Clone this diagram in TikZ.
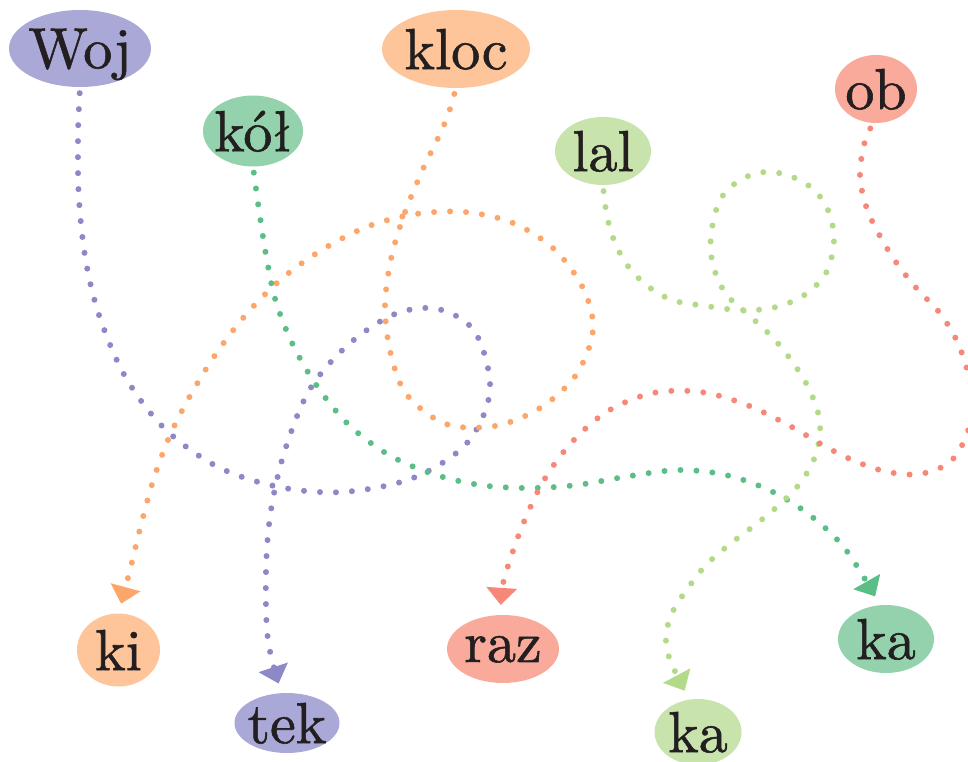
\documentclass[tikz,border=0pt]{standalone}
\usepackage{fontspec}
\usetikzlibrary{shapes.geometric,arrows.meta}

\newfontfamily\nodefont{lmroman10-regular.otf}[FakeBold=1]

\definecolor{purpleFill}{HTML}{A9A8D6}
\definecolor{purpleLine}{HTML}{8D89C6}
\definecolor{orangeFill}{HTML}{FDC599}
\definecolor{orangeLine}{HTML}{FCA66B}
\definecolor{greenFill}{HTML}{93D2AC}
\definecolor{greenLine}{HTML}{5CBE87}
\definecolor{limeFill}{HTML}{C9E3AD}
\definecolor{limeLine}{HTML}{B3DA89}
\definecolor{redFill}{HTML}{F9AA9B}
\definecolor{redLine}{HTML}{F6887A}
\definecolor{ink}{HTML}{231F20}

\tikzset{
  blob/.style={ellipse, inner xsep=-12pt, inner ysep=0pt, text=ink,
    font=\nodefont\fontsize{58}{60}\selectfont, text depth=0pt},
  link/.style={line width=6pt, line cap=round, dash pattern=on 0pt off 16pt,
    -{Triangle[width=31pt,length=17pt,line width=0pt]},
    shorten >=10pt, shorten <=6pt},
}

\begin{document}
\begin{tikzpicture}[x=1pt, y=-1pt]
\useasboundingbox (0,0) rectangle (968,762);

% nodes
\node[blob, fill=purpleFill, minimum width=142pt, minimum height=77pt] (woj) at (80,48.5) {Woj};
\node[blob, fill=orangeFill, minimum width=148pt, minimum height=78pt] (kloc) at (456,49) {kloc};
\node[blob, fill=greenFill, minimum width=100pt, minimum height=71pt] (kol) at (253,131) {kół};
\node[blob, fill=limeFill, minimum width=96pt, minimum height=68pt] (lal) at (603,151) {lal};
\node[blob, fill=redFill, minimum width=82pt, minimum height=68pt] (ob) at (876,89) {ob};
\node[blob, fill=orangeFill, minimum width=83pt, minimum height=73pt] (ki) at (118.5,650) {ki};
\node[blob, fill=purpleFill, minimum width=105pt, minimum height=60pt] (tek) at (287,723) {tek};
\node[blob, fill=redFill, minimum width=112pt, minimum height=68pt] (raz) at (503,649) {raz};
\node[blob, fill=limeFill, minimum width=87pt, minimum height=66pt] (kaA) at (698,732) {ka};
\node[blob, fill=greenFill, minimum width=96pt, minimum height=68pt] (kaB) at (886,639) {ka};

% Woj -> tek
\draw[link, purpleLine] plot[smooth, tension=0.55] coordinates {
  (woj.south) (78,140) (79,200) (86,262) (100,318) (126,378) (165,429)
  (218,467) (279,487) (343,492) (413,478) (467,443) (490,390) (475,332)
  (438,309) (395,314) (349,344) (310,389) (285,450) (271,510) (266,570)
  (268,640) (tek.100)};

% kloc -> ki
\draw[link, orangeLine] plot[smooth, tension=0.55] coordinates {
  (kloc.south) (444,125) (423,169) (404,215) (391,259) (385,307) (391,355)
  (407,395) (446,424) (495,426) (540,408) (576,375) (593,330) (583,288)
  (554,249) (513,223) (465,212) (416,214) (369,226) (325,248) (285,276)
  (250,310) (220,348) (194,389) (171,433) (154,478) (141,525) (130,570)
  (ki.north)};

% kół -> ka
\draw[link, greenLine] plot[smooth, tension=0.55] coordinates {
  (kol.south) (259,210) (266,255) (276,302) (294,347) (319,389) (350,426)
  (389,455) (433,474) (480,485) (529,488) (577,485) (630,476) (679,470)
  (726,475) (771,491) (811,516) (846,550) (kaB.100)};

% lal -> ka
\draw[link, limeLine] plot[smooth, tension=0.55] coordinates {
  (lal.south) (606,210) (612,235) (625,262) (645,284) (672,300) (706,306)
  (739,310) (772,308) (803,296) (826,273) (834,240) (828,210) (813,189)
  (790,176) (765,172) (740,180) (720,200) (711,235) (713,265) (726,294)
  (751,317) (775,340) (796,367) (811,393) (820,423) (816,454) (801,482)
  (779,505) (755,525) (730,544) (706,565) (688,588) (673,611) (666,635)
  (670,660) (kaA.105)};

% ob -> raz
\draw[link, redLine] plot[smooth, tension=0.55] coordinates {
  (ob.-95) (864,145) (860,177) (867,209) (881,238) (898,265) (918,290)
  (939,312) (956,339) (967,369) (973,400) (967,434) (950,462) (920,474)
  (888,472) (857,462) (828,448) (790,426) (747,405) (701,392) (653,393)
  (608,411) (572,442) (544,480) (523,524) (510,560) (503,584) (raz.95)};
\end{tikzpicture}
\end{document}
